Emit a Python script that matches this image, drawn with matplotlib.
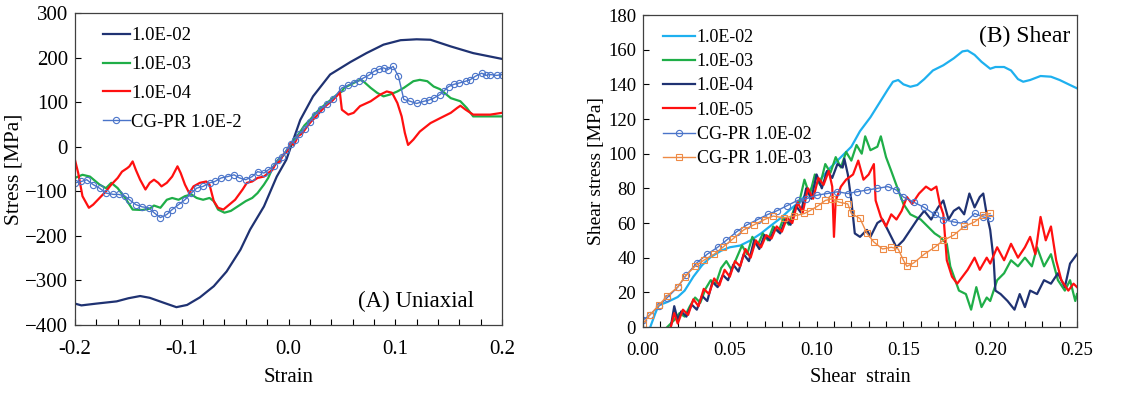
import matplotlib
matplotlib.use("Agg")
import matplotlib.pyplot as plt
from matplotlib.ticker import MultipleLocator, FormatStrFormatter

plt.rcParams['font.family'] = ['Liberation Serif', 'DejaVu Serif']
plt.rcParams['font.size'] = 13

# ---------------- (A) Uniaxial ----------------
ua_e2_x = [-0.2, -0.194, -0.18, -0.161, -0.15, -0.139, -0.13, -0.117, -0.105, -0.095,
           -0.083, -0.070, -0.058, -0.045, -0.036, -0.023, -0.011, -0.002, 0.011, 0.023,
           0.039, 0.058, 0.073, 0.089, 0.105, 0.120, 0.133, 0.152, 0.173, 0.2]
ua_e2_y = [-352, -356, -352, -347, -340, -335, -339, -350, -360, -355,
           -338, -313, -280, -231, -186, -134, -67, -29, 60, 113,
           162, 190, 210, 229, 239, 241, 240, 225, 210, 197]

ua_e3_x = [-0.2, -0.193, -0.186, -0.177, -0.171, -0.166, -0.16, -0.153, -0.146, -0.137,
           -0.13, -0.126, -0.12, -0.114, -0.109, -0.103, -0.097, -0.091, -0.086, -0.08,
           -0.074, -0.07, -0.066, -0.06, -0.054, -0.047, -0.04, -0.034, -0.029, -0.023,
           -0.019, -0.015, -0.01, -0.005, 0.0, 0.005, 0.01, 0.015, 0.02, 0.025,
           0.03, 0.035, 0.04, 0.045, 0.05, 0.052, 0.061, 0.067, 0.07, 0.077,
           0.083, 0.089, 0.095, 0.102, 0.108, 0.117, 0.123, 0.13, 0.136, 0.142,
           0.152, 0.161, 0.167, 0.173, 0.183, 0.192, 0.2]
ua_e3_y = [-70, -63, -67, -85, -93, -81, -93, -115, -141, -142,
           -139, -132, -137, -119, -115, -119, -111, -107, -115, -119,
           -115, -122, -141, -148, -144, -133, -122, -115, -104, -85,
           -70, -48, -30, -20, -2, 14, 30, 48, 60, 74,
           86, 96, 106, 116, 124, 132, 143, 150, 147, 132,
           121, 113, 117, 124, 132, 147, 150, 147, 135, 129,
           109, 102, 87, 68, 68, 68, 68]

ua_e4_x = [-0.2, -0.197, -0.193, -0.187, -0.183, -0.177, -0.171, -0.166, -0.16, -0.156,
           -0.151, -0.149, -0.146, -0.143, -0.139, -0.134, -0.13, -0.126, -0.122, -0.119,
           -0.114, -0.109, -0.104, -0.101, -0.097, -0.093, -0.089, -0.083, -0.077, -0.074,
           -0.07, -0.066, -0.061, -0.057, -0.05, -0.043, -0.039, -0.034, -0.029, -0.023,
           -0.019, -0.015, -0.012, -0.008, -0.005, -0.002, 0.002, 0.005, 0.009, 0.013,
           0.017, 0.021, 0.026, 0.031, 0.036, 0.041, 0.046, 0.048, 0.05, 0.056,
           0.061, 0.067, 0.077, 0.086, 0.092, 0.097, 0.102, 0.106, 0.109, 0.112,
           0.117, 0.123, 0.133, 0.142, 0.152, 0.158, 0.161, 0.166, 0.173, 0.18,
           0.189, 0.2]
ua_e4_y = [-30, -59, -111, -137, -130, -115, -100, -85, -70, -56,
           -48, -44, -33, -52, -74, -96, -81, -74, -81, -89,
           -81, -67, -44, -59, -85, -104, -89, -81, -78, -85,
           -122, -137, -141, -133, -119, -96, -81, -78, -70, -67,
           -59, -52, -38, -33, -18, -12, 8, 4, 24, 30,
           44, 56, 68, 82, 94, 103, 116, 124, 83, 72,
           76, 91, 102, 117, 124, 121, 98, 68, 31, 4,
           16, 34, 53, 64, 76, 87, 92, 83, 72, 72,
           72, 76]

ua_cg_x = [-0.2, -0.194, -0.189, -0.183, -0.177, -0.171, -0.164, -0.159, -0.153, -0.149,
           -0.143, -0.137, -0.131, -0.126, -0.12, -0.114, -0.109, -0.103, -0.097, -0.091,
           -0.086, -0.08, -0.074, -0.069, -0.063, -0.057, -0.051, -0.046, -0.04, -0.034,
           -0.029, -0.023, -0.019, -0.014, -0.01, -0.006, -0.002, 0.002, 0.006, 0.01,
           0.015, 0.02, 0.025, 0.03, 0.036, 0.042, 0.05, 0.056, 0.061, 0.066,
           0.07, 0.075, 0.08, 0.085, 0.089, 0.093, 0.098, 0.103, 0.108, 0.114,
           0.12, 0.127, 0.132, 0.136, 0.142, 0.146, 0.15, 0.155, 0.16, 0.166,
           0.17, 0.175, 0.181, 0.185, 0.189, 0.195, 0.2]
ua_cg_y = [-81, -78, -74, -85, -93, -104, -107, -107, -111, -119,
           -130, -135, -137, -148, -159, -152, -141, -130, -119, -104,
           -93, -89, -81, -78, -70, -67, -63, -70, -74, -67,
           -56, -59, -52, -44, -30, -22, -8, 6, 14, 28,
           40, 56, 72, 84, 96, 108, 132, 138, 144, 148,
           154, 160, 169, 174, 177, 173, 180, 158, 106, 102,
           97, 102, 105, 109, 117, 126, 135, 140, 143, 147,
           150, 158, 165, 160, 162, 160, 162]

# ---------------- (B) Shear ----------------
sh_e2_x = [0.0042, 0.007, 0.009, 0.014, 0.02, 0.024, 0.029, 0.034, 0.039, 0.045,
           0.05, 0.056, 0.062, 0.068, 0.073, 0.079, 0.085, 0.091, 0.096, 0.102,
           0.108, 0.114, 0.12, 0.125, 0.131, 0.136, 0.141, 0.144, 0.147, 0.15,
           0.154, 0.158, 0.162, 0.167, 0.173, 0.179, 0.184, 0.187, 0.191, 0.195,
           0.2, 0.203, 0.208, 0.212, 0.216, 0.219, 0.223, 0.229, 0.235, 0.24,
           0.246, 0.25]
sh_e2_y = [0, 7.7, 12.5, 14.4, 17.3, 21, 29, 35.6, 40.4, 44,
           46, 47, 50, 54, 58, 62.6, 68, 73, 79, 85,
           92, 98, 104, 113, 121, 129, 137, 141.5, 142.5, 140,
           138.6, 139.6, 143, 148, 151, 155, 159, 159.5, 157, 153,
           149, 150, 150, 148, 143, 141.5, 142.5, 144.8, 144.4, 142.5,
           139.6, 137.7]

sh_e3_x = [0.014, 0.018, 0.021, 0.024, 0.027, 0.030, 0.033, 0.036, 0.039, 0.042,
           0.045, 0.048, 0.051, 0.054, 0.057, 0.060, 0.063, 0.066, 0.069, 0.072,
           0.075, 0.078, 0.081, 0.084, 0.087, 0.090, 0.093, 0.096, 0.099, 0.102,
           0.105, 0.108, 0.111, 0.114, 0.117, 0.120, 0.123, 0.126, 0.128, 0.131,
           0.135, 0.137, 0.14, 0.143, 0.147, 0.15, 0.154, 0.16, 0.164, 0.168,
           0.171, 0.175, 0.177, 0.182, 0.186, 0.189, 0.192, 0.195, 0.198, 0.2,
           0.204, 0.208, 0.212, 0.216, 0.22, 0.224, 0.227, 0.231, 0.235, 0.239,
           0.243, 0.246, 0.249, 0.25]
sh_e3_y = [0, 4, 8, 6, 12, 17, 14, 22, 27, 25,
           34, 38, 33, 40, 47, 42, 52, 47, 54, 50,
           58, 55, 63, 59, 68, 72, 85, 76, 88, 82,
           94, 89, 98, 92, 101, 96, 105, 100, 110, 102,
           104, 110, 98, 90, 79, 71, 65, 62, 58, 54,
           52, 48, 35, 21, 19, 10, 23, 11.5, 17, 15,
           27, 31, 38.5, 35, 40, 35, 46, 35, 42, 27,
           21, 27, 15, 19]

sh_e4_x = [0.016, 0.018, 0.020, 0.022, 0.025, 0.028, 0.031, 0.034, 0.037, 0.040,
           0.043, 0.046, 0.049, 0.052, 0.055, 0.058, 0.061, 0.064, 0.067, 0.070,
           0.073, 0.076, 0.079, 0.082, 0.085, 0.088, 0.091, 0.094, 0.097, 0.100,
           0.103, 0.106, 0.109, 0.112, 0.115, 0.116, 0.118, 0.12, 0.122, 0.125,
           0.129, 0.131, 0.135, 0.138, 0.142, 0.146, 0.15, 0.154, 0.158, 0.162,
           0.166, 0.17, 0.173, 0.176, 0.179, 0.182, 0.185, 0.188, 0.191, 0.194,
           0.196, 0.198, 0.2, 0.202, 0.203, 0.206, 0.21, 0.214, 0.217, 0.22,
           0.223, 0.227, 0.231, 0.235, 0.239, 0.243, 0.246, 0.25]
sh_e4_y = [0, 12, 4, 9, 6, 13, 10, 18, 15, 26,
           23, 30, 27, 36, 32, 42, 38, 50, 45, 53,
           50, 57, 54, 62, 59, 70, 66, 80, 74, 88,
           80, 90, 86, 94, 92, 97, 88, 73, 54, 52,
           56, 52, 60, 62, 54, 46, 50, 56, 62, 67,
           62, 69, 73, 62, 67, 69, 65, 77, 69, 75,
           77, 65, 56, 38.5, 21, 19, 15, 10, 19, 11.5,
           21, 19, 27, 25, 31, 23, 36.6, 42]

sh_e5_x = [0.016, 0.018, 0.020, 0.023, 0.026, 0.029, 0.032, 0.035, 0.038, 0.041,
           0.044, 0.047, 0.050, 0.053, 0.056, 0.059, 0.062, 0.065, 0.068, 0.071,
           0.074, 0.077, 0.080, 0.083, 0.086, 0.089, 0.092, 0.095, 0.098, 0.101,
           0.104, 0.107, 0.109, 0.110, 0.111, 0.114, 0.117, 0.121, 0.124, 0.127,
           0.13, 0.133, 0.134, 0.137, 0.14, 0.143, 0.146, 0.149, 0.152, 0.155,
           0.159, 0.163, 0.166, 0.169, 0.171, 0.173, 0.175, 0.178, 0.181, 0.184,
           0.187, 0.191, 0.194, 0.198, 0.2, 0.204, 0.208, 0.212, 0.216, 0.22,
           0.223, 0.226, 0.229, 0.232, 0.235, 0.238, 0.241, 0.245, 0.248, 0.25]
sh_e5_y = [0, 8, 2, 10, 7, 16, 12, 22, 19, 28,
           24, 33, 29, 38, 35, 45, 40, 50, 46, 53,
           51, 58, 55, 63, 60, 72, 66, 80, 74, 86,
           82, 90, 81, 52, 73, 81, 85, 88, 96, 85,
           88, 94, 73, 63.5, 58, 65, 62, 67, 75, 71,
           77, 81, 79, 81, 71, 65, 38.5, 29, 25, 29,
           33, 40, 33, 40, 36.6, 46, 38.5, 48, 40, 46,
           52, 42, 63.5, 50, 58, 38.5, 27, 21, 25, 23]

sh_cg2_x = [0.0, 0.004, 0.009, 0.014, 0.02, 0.025, 0.031, 0.037, 0.043, 0.048,
            0.054, 0.06, 0.066, 0.072, 0.077, 0.083, 0.089, 0.094, 0.1, 0.106,
            0.112, 0.118, 0.123, 0.129, 0.135, 0.141, 0.146, 0.15, 0.156, 0.162,
            0.168, 0.173, 0.179, 0.185, 0.191, 0.196, 0.2]
sh_cg2_y = [4, 7, 12, 17, 23, 30, 37, 42, 46, 50,
            55, 59, 62, 65, 67, 70, 73, 74, 76, 77,
            78, 77, 78, 79, 80, 81, 79, 75, 72, 69,
            65, 62, 60.6, 59.7, 65.5, 63.5, 62.6]

sh_cg3_x = [0.0, 0.004, 0.009, 0.014, 0.02, 0.024, 0.03, 0.035, 0.041, 0.046,
            0.052, 0.058, 0.064, 0.07, 0.075, 0.081, 0.087, 0.093, 0.096, 0.101,
            0.105, 0.109, 0.113, 0.118, 0.12, 0.125, 0.129, 0.133, 0.138, 0.143,
            0.147, 0.15, 0.152, 0.156, 0.162, 0.168, 0.173, 0.179, 0.185, 0.191,
            0.196, 0.2]
sh_cg3_y = [2, 7, 12.5, 18, 23, 29, 35, 38.5, 42, 46,
            51, 56, 59, 62, 64, 63, 64, 65.5, 67, 70,
            73, 74, 72, 71, 65.5, 62.6, 54, 49, 45, 46,
            45, 38.5, 35, 37, 42, 46, 50, 53, 58, 60.6,
            64.5, 65.5]

fig = plt.figure(figsize=(11.32, 3.95), dpi=100)
ax1 = fig.add_axes([75/1132, 1-325/395, 427/1132, 312/395])
ax2 = fig.add_axes([643/1132, 1-327/395, 434/1132, 312/395])

navy = '#1f3272'
green = '#1fae48'
red = '#ff1010'
cgblue = '#4a74c9'

ax1.plot(ua_e2_x, ua_e2_y, color=navy, lw=1.6, label='1.0E-02')
ax1.plot(ua_e3_x, ua_e3_y, color=green, lw=1.6, label='1.0E-03')
ax1.plot(ua_e4_x, ua_e4_y, color=red, lw=1.6, label='1.0E-04')
ax1.plot(ua_cg_x, ua_cg_y, color=cgblue, lw=1.0, marker='o', ms=4.5, mfc='none',
         mew=0.8, label='CG-PR 1.0E-2')
ax1.set_xlim(-0.2, 0.2)
ax1.set_ylim(-400, 300)
ax1.xaxis.set_minor_locator(MultipleLocator(0.02))
ax1.yaxis.set_major_locator(MultipleLocator(100))
ax1.set_xticks([-0.2, -0.1, 0.0, 0.1, 0.2])
ax1.set_xticklabels(['-0.2', '-0.1', '0.0', '0.1', '0.2'])
ax1.set_xlabel('Strain', fontsize=15, labelpad=6)
ax1.set_ylabel('Stress [MPa]', fontsize=15.5, labelpad=1)
ax1.text(0.935, 0.075, '(A) Uniaxial', transform=ax1.transAxes, ha='right',
         va='center', fontsize=16.5)
ax1.legend(loc='upper left', bbox_to_anchor=(0.04, 0.99), frameon=False,
           fontsize=13.5, handlelength=1.4, handletextpad=0.1, labelspacing=0.62,
           borderaxespad=0.2)

ax2.plot(sh_e2_x, sh_e2_y, color='#1eb0ef', lw=1.6, label='1.0E-02')
ax2.plot(sh_e3_x, sh_e3_y, color=green, lw=1.6, label='1.0E-03')
ax2.plot(sh_e4_x, sh_e4_y, color=navy, lw=1.6, label='1.0E-04')
ax2.plot(sh_e5_x, sh_e5_y, color=red, lw=1.6, label='1.0E-05')
ax2.plot(sh_cg2_x, sh_cg2_y, color=cgblue, lw=1.0, marker='o', ms=4.5, mfc='none',
         mew=0.8, label='CG-PR 1.0E-02')
ax2.plot(sh_cg3_x, sh_cg3_y, color='#ee8a45', lw=1.0, marker='s', ms=4.5, mfc='none',
         mew=0.8, label='CG-PR 1.0E-03')
ax2.set_xlim(0, 0.25)
ax2.set_ylim(0, 180)
ax2.xaxis.set_major_locator(MultipleLocator(0.05))
ax2.xaxis.set_minor_locator(MultipleLocator(0.01))
ax2.yaxis.set_major_locator(MultipleLocator(20))
ax2.xaxis.set_major_formatter(FormatStrFormatter('%.2f'))
ax2.set_xlabel('Shear  strain', fontsize=14.5, labelpad=6)
ax2.set_ylabel('Shear stress [MPa]', fontsize=14, labelpad=2)
ax2.text(0.984, 0.93, '(B) Shear', transform=ax2.transAxes, ha='right',
         va='center', fontsize=17)
ax2.legend(loc='upper left', bbox_to_anchor=(0.02, 0.99), frameon=False,
           fontsize=13, handlelength=1.8, handletextpad=0.1, labelspacing=0.4,
           borderaxespad=0.2)

for ax, lsize in ((ax1, 15), (ax2, 13.5)):
    ax.tick_params(which='both', direction='in', labelsize=lsize, width=0.8)
    ax.tick_params(which='both', length=4)
    ax.tick_params(axis='x', which='major', pad=11)
    ax.tick_params(axis='y', which='major', pad=5)
    for s in ax.spines.values():
        s.set_color('#404040')
        s.set_linewidth(0.9)

fig.savefig('out.png', dpi=100)
